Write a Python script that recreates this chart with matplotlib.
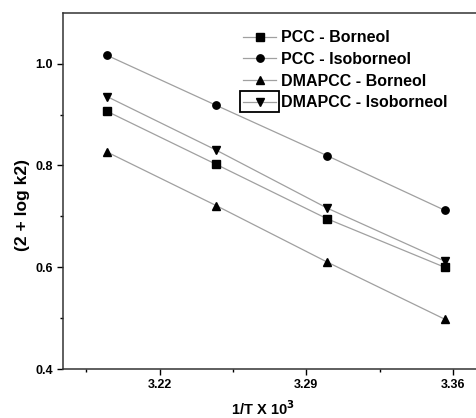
import matplotlib
matplotlib.use("Agg")
import matplotlib.pyplot as plt
from matplotlib.patches import Rectangle

plt.rcParams['font.family'] = ['Liberation Sans', 'DejaVu Sans']
plt.rcParams['font.weight'] = 'bold'

inv_t = [3.195, 3.247, 3.300, 3.356]
pcc_borneol = [0.906, 0.802, 0.695, 0.600]
pcc_isoborneol = [1.016, 0.918, 0.819, 0.712]
dmapcc_borneol = [0.826, 0.721, 0.610, 0.498]
dmapcc_isoborneol = [0.935, 0.830, 0.716, 0.612]

series = [
    ('PCC - Borneol', pcc_borneol, 's'),
    ('PCC - Isoborneol', pcc_isoborneol, 'o'),
    ('DMAPCC - Borneol', dmapcc_borneol, '^'),
    ('DMAPCC - Isoborneol', dmapcc_isoborneol, 'v'),
]

fig = plt.figure(figsize=(4.76, 4.18), dpi=100)
ax = fig.add_axes([63.3 / 476, 1 - 369 / 418, (476 - 63.3) / 476, (369 - 12.7) / 418])

for label, vals, mk in series:
    ax.plot(inv_t, vals, color='#a0a0a0', lw=0.9, marker=mk, markersize=5.3,
            markerfacecolor='black', markeredgecolor='black', label=label)

ax.set_xlim(3.174, 3.371)
ax.set_ylim(0.4, 1.1)
ax.set_xticks([3.22, 3.29, 3.36])
ax.set_xticks([3.185, 3.255, 3.325], minor=True)
ax.set_yticks([0.4, 0.6, 0.8, 1.0])
ax.set_yticks([0.5, 0.7, 0.9], minor=True)
ax.set_yticklabels(['0.4', '0.6', '0.8', '1.0'])
ax.tick_params(axis='both', which='major', length=4, width=1, labelsize=9)
ax.tick_params(axis='both', which='minor', length=2.5, width=1)
for lab in ax.get_xticklabels() + ax.get_yticklabels():
    lab.set_fontweight('bold')

ax.spines['right'].set_visible(False)
for s in ['left', 'bottom', 'top']:
    ax.spines[s].set_linewidth(1.1)
    ax.spines[s].set_color('#333333')

ax.set_xlabel('1/T X 10$^{\\mathbf{3}}$', fontsize=10.5, fontweight='bold')
ax.xaxis.set_label_coords(0.484, -0.085)
ax.set_ylabel('(2 + log k2)', fontsize=12.5, fontweight='bold')
ax.yaxis.set_label_coords(-0.08, 0.46)

leg = ax.legend(loc='upper left', bbox_to_anchor=(0.412, 0.978), frameon=False,
                prop={'size': 11.5, 'weight': 'bold'}, handlelength=2.1,
                handletextpad=0.3, labelspacing=0.42, borderaxespad=0.2)

fig.canvas.draw()
h = leg.legend_handles[3]
bb = h.get_window_extent(fig.canvas.get_renderer())
inv = fig.transFigure.inverted()
(x0, y0), (x1, y1) = inv.transform([[bb.x0 + 1, bb.y0 - 7], [bb.x1 - 1, bb.y1 + 7]])
fig.patches.append(Rectangle((x0, y0), x1 - x0, y1 - y0, transform=fig.transFigure,
                             fill=False, lw=1.3, edgecolor='black'))

fig.savefig('out.png', dpi=100)
